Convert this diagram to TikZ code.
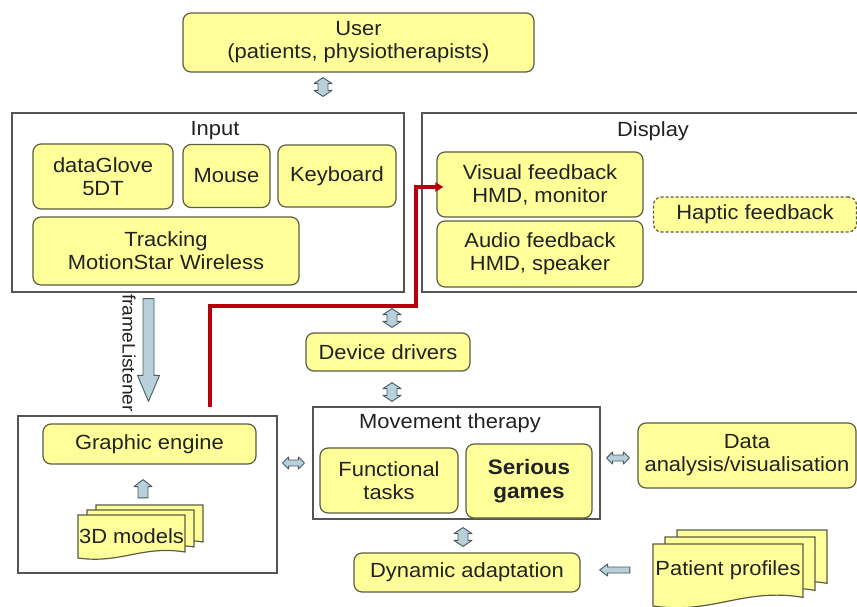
\documentclass[tikz,border=0pt]{standalone}
\usepackage{fontspec}
\setmainfont{Liberation Sans}[FakeStretch=1.07]
\usetikzlibrary{calc,arrows.meta}

\definecolor{boxfill}{HTML}{FFFF99}
\definecolor{boxline}{HTML}{5C5C44}
\definecolor{frameline}{HTML}{555555}
\definecolor{arrowfill}{HTML}{B7D0DA}
\definecolor{arrowline}{HTML}{4A5A62}
\definecolor{redpath}{HTML}{B8000C}
\definecolor{textcol}{HTML}{222222}

\tikzset{
  every node/.style={font=\fontsize{20.5}{23}\selectfont, text=textcol, inner sep=0pt, align=center},
  ybox/.style={draw=boxline, fill=boxfill, line width=1.2pt, rounded corners=8pt},
  framebox/.style={draw=frameline, line width=1.2pt},
  docbox/.style={draw=boxline, fill=boxfill, line width=1.2pt},
  blockarrow/.style={draw=arrowline, fill=arrowfill, line width=0.9pt, line join=round},
  redline/.style={draw=redpath, line width=3.2pt, -{Triangle[length=8pt,width=9pt]}},
}

% vertical double block arrow: #1 upper end, #2 lower end
\newcommand\VDArrow[2]{%
  \path[blockarrow] let \p1=#1, \p2=#2 in
  (\x1,\y1) -- (\x1+9pt,\y1-6pt) -- (\x1+5pt,\y1-6pt) -- (\x1+5pt,\y2+6pt)
  -- (\x1+9pt,\y2+6pt) -- (\x1,\y2) -- (\x1-9pt,\y2+6pt) -- (\x1-5pt,\y2+6pt)
  -- (\x1-5pt,\y1-6pt) -- (\x1-9pt,\y1-6pt) -- cycle;}
% horizontal double block arrow: #1 left end, #2 right end
\newcommand\HDArrow[2]{%
  \path[blockarrow] let \p1=#1, \p2=#2 in
  (\x1,\y2) -- (\x1+6pt,\y2+6pt) -- (\x1+6pt,\y2+3pt) -- (\x2-6pt,\y2+3pt)
  -- (\x2-6pt,\y2+6pt) -- (\x2,\y2) -- (\x2-6pt,\y2-6pt) -- (\x2-6pt,\y2-3pt)
  -- (\x1+6pt,\y2-3pt) -- (\x1+6pt,\y2-6pt) -- cycle;}
% upward block arrow: #1 tail, #2 tip
\newcommand\UArrow[2]{%
  \path[blockarrow] let \p1=#1, \p2=#2 in
  (\x1-5pt,\y1) -- (\x1-5pt,\y2-7pt) -- (\x1-9pt,\y2-7pt) -- (\x1,\y2)
  -- (\x1+9pt,\y2-7pt) -- (\x1+5pt,\y2-7pt) -- (\x1+5pt,\y1) -- cycle;}
% downward wide block arrow: #1 tail, #2 tip
\newcommand\DArrow[2]{%
  \path[blockarrow] let \p1=#1, \p2=#2 in
  (\x1-5.5pt,\y1) -- (\x1-5.5pt,\y2+26pt) -- (\x1-11pt,\y2+26pt) -- (\x1,\y2)
  -- (\x1+11pt,\y2+26pt) -- (\x1+5.5pt,\y2+26pt) -- (\x1+5.5pt,\y1) -- cycle;}
% leftward block arrow: #1 tail, #2 tip
\newcommand\LArrow[2]{%
  \path[blockarrow] let \p1=#1, \p2=#2 in
  (\x1,\y1+3pt) -- (\x2+8pt,\y1+3pt) -- (\x2+8pt,\y1+6pt) -- (\x2,\y1)
  -- (\x2+8pt,\y1-6pt) -- (\x2+8pt,\y1-3pt) -- (\x1,\y1-3pt) -- cycle;}

% one document sheet with a wavy lower edge: left, top, width, height
\newcommand\docpage[4]{%
  \filldraw[docbox] ({#1},{#2}) -- ({#1+#3},{#2}) -- ({#1+#3},{#2+0.86*#4})
  .. controls ({#1+0.6*#3},{#2+0.70*#4}) and ({#1+0.4*#3},{#2+1.14*#4})
  .. ({#1},{#2+#4}) -- cycle;}
% stack of three sheets: left, top, width, height, dx, dy
\newcommand\docstack[6]{%
  \docpage{#1+2*#5}{#2-2*#6}{#3}{#4}%
  \docpage{#1+#5}{#2-#6}{#3}{#4}%
  \docpage{#1}{#2}{#3}{#4}}

\begin{document}
\begin{tikzpicture}[x=1pt, y=-1pt]
  \useasboundingbox[fill=white] (0,0) rectangle (857,606);

  % grouping frames
  \node[framebox, minimum width=392pt, minimum height=179pt] (input) at (208,202.5) {};
  \node[framebox, minimum width=440pt, minimum height=179pt] (display) at (642,202.5) {};
  \node[framebox, minimum width=259pt, minimum height=157pt] (gbox) at (147.5,494.5) {};
  \node[framebox, minimum width=287pt, minimum height=112pt] (movement) at (456.5,463) {};

  \node (inputtitle) at (215,131) {Input};
  \node (displaytitle) at (653,131) {Display};
  \node (movetitle) at (450,423) {Movement therapy};

  % user
  \node[ybox, minimum width=351pt, minimum height=59pt] (user) at (358.5,42.5)
    {User\\(patients, physiotherapists)};

  % input devices
  \node[ybox, minimum width=140pt, minimum height=65pt] (glove) at (103,176.5) {dataGlove\\5DT};
  \node[ybox, minimum width=87pt, minimum height=63pt] (mouse) at (226.5,176) {Mouse};
  \node[ybox, minimum width=118pt, minimum height=62pt] (keyboard) at (337,176) {Keyboard};
  \node[ybox, minimum width=266pt, minimum height=68pt] (tracking) at (166,251)
    {Tracking\\MotionStar Wireless};

  % display devices
  \node[ybox, minimum width=206pt, minimum height=65pt] (visual) at (540,184.5)
    {Visual feedback\\HMD, monitor};
  \node[ybox, minimum width=206pt, minimum height=66pt] (audio) at (540,254)
    {Audio feedback\\HMD, speaker};
  \node[ybox, dash pattern=on 3pt off 2pt, minimum width=203pt, minimum height=35pt] (haptic)
    at (755,214.5) {Haptic feedback};

  % middle column
  \node[ybox, minimum width=164pt, minimum height=38pt] (drivers) at (388,352) {Device drivers};
  \node[ybox, minimum width=138pt, minimum height=65pt] (functional) at (389,480.5)
    {Functional\\tasks};
  \node[ybox, minimum width=126pt, minimum height=74pt,
        font=\fontsize{21}{24}\selectfont\bfseries] (serious) at (529,481) {Serious\\games};
  \node[ybox, minimum width=218pt, minimum height=65pt] (data) at (747,455.5)
    {Data\\analysis/visualisation};
  \node[ybox, minimum width=226pt, minimum height=39pt] (dynamic) at (467,572.5)
    {Dynamic adaptation};

  % graphic engine and models
  \node[ybox, minimum width=213pt, minimum height=40pt] (engine) at (149.5,444) {Graphic engine};
  \docstack{78}{515}{107}{43}{9}{5}
  \node[minimum width=107pt, minimum height=43pt] (models) at (131.5,536.5) {3D models};

  % patient profiles
  \docstack{653}{544}{150}{62}{12}{7}
  \node[minimum width=150pt, minimum height=52pt] (profiles) at (728,570) {Patient profiles};

  % block arrows
  \VDArrow{([xshift=-35.5pt,yshift=-5pt]user.south)}{([xshift=-35.5pt,yshift=16pt]user.south |- input.north)}
  \DArrow{([xshift=-59.5pt,yshift=-6pt]input.south)}{([xshift=-59.5pt,yshift=14pt]input.south |- gbox.north)}
  \node[rotate=-90, font=\fontsize{18}{20}\selectfont] (framelabel) at (129,353) {frameListener};
  \VDArrow{([xshift=4pt,yshift=-16pt]drivers.north |- display.south)}{([xshift=4pt,yshift=5pt]drivers.north)}
  \VDArrow{([xshift=4pt,yshift=-11pt]drivers.south)}{([xshift=4pt,yshift=5pt]drivers.south |- movement.north)}
  \VDArrow{([xshift=6.5pt,yshift=-8pt]movement.south)}{([xshift=6.5pt,yshift=6pt]movement.south |- dynamic.north)}
  \HDArrow{([xshift=5pt]gbox.east |- movement.west)}{([xshift=-8pt]movement.west)}
  \HDArrow{([xshift=6pt,yshift=-2.5pt]movement.east |- data.west)}{([xshift=-8pt,yshift=-2.5pt]data.west)}
  \UArrow{([xshift=-6.5pt,yshift=17pt]engine.south |- models.north)}{([xshift=-6.5pt,yshift=-15pt]engine.south)}
  \LArrow{([xshift=-23pt]profiles.west)}{([xshift=19pt]dynamic.east |- profiles.west)}

  % red data path from the engine to the visual output
  \coordinate (redstart) at ([xshift=62.5pt,yshift=8pt]gbox.north);
  \coordinate (redturn) at (416,306);
  \draw[redline] (redstart) |- (redturn) |- ([xshift=7pt,yshift=-2.5pt]visual.west);
\end{tikzpicture}
\end{document}
